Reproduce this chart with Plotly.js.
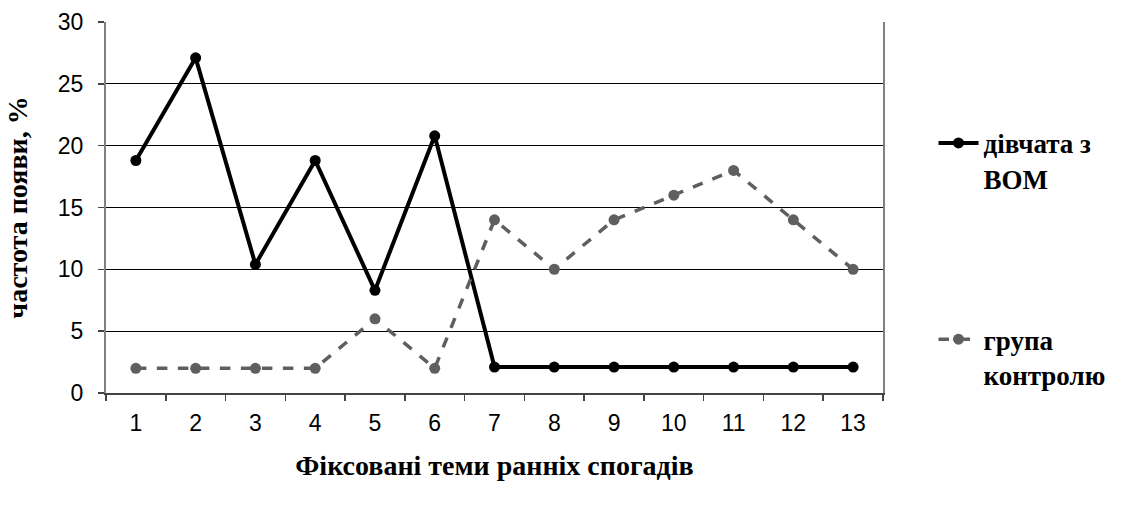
<!DOCTYPE html>
<html>
<head>
<meta charset="utf-8">
<script src="https://cdn.plot.ly/plotly-3.0.1.min.js"></script>
<style>
  html, body { margin: 0; padding: 0; background: #fff; }
  #chart { width: 1123px; height: 514px; }
</style>
</head>
<body>
<div id="chart"></div>
<script>
// Теми ранніх спогадів (1–13)
const themes = ['1', '2', '3', '4', '5', '6', '7', '8', '9', '10', '11', '12', '13'];
// Частота появи, %
const girlsVOM = [18.8, 27.1, 10.4, 18.8, 8.3, 20.8, 2.1, 2.1, 2.1, 2.1, 2.1, 2.1, 2.1];
const controlGroup = [2, 2, 2, 2, 6, 2, 14, 10, 14, 16, 18, 14, 10];
const yTicks = [0, 5, 10, 15, 20, 25, 30];

const serif = 'Times New Roman, Liberation Serif, DejaVu Serif, serif';
const sans = 'Arial, Liberation Sans, sans-serif';

const traces = [
  {
    x: themes, y: girlsVOM, name: 'дівчата з<br>ВОМ',
    type: 'scatter', mode: 'lines+markers',
    line: { color: '#000000', width: 4 },
    marker: { color: '#000000', size: 11 },
    legend: 'legend'
  },
  {
    x: themes, y: controlGroup, name: 'група<br>контролю',
    type: 'scatter', mode: 'lines+markers',
    line: { color: '#5f5f5f', width: 3.5, dash: 'dash' },
    marker: { color: '#5f5f5f', size: 11 },
    legend: 'legend2'
  }
];

const legendBase = {
  xref: 'paper', yref: 'paper', xanchor: 'left', yanchor: 'top',
  bgcolor: 'rgba(0,0,0,0)', borderwidth: 0, valign: 'top',
  font: { family: serif, size: 27, color: '#000', weight: 'bold' },
  itemwidth: 40
};

const layout = {
  width: 1123, height: 514,
  margin: { l: 106, r: 238, t: 22, b: 121 },
  paper_bgcolor: '#ffffff', plot_bgcolor: '#ffffff',
  font: { family: sans, size: 23, color: '#000' },
  showlegend: true,
  xaxis: {
    type: 'category',
    range: [-0.5, 12.5],
    tickson: 'boundaries',
    ticks: 'outside', ticklen: 6, tickcolor: '#444', tickwidth: 1.5,
    ticklabelstandoff: 9,
    showgrid: false, zeroline: false,
    showline: true, linecolor: '#444', linewidth: 1.5,
    tickfont: { family: sans, size: 23, color: '#000' },
    title: {
      text: 'Фіксовані теми ранніх спогадів',
      font: { family: serif, size: 28, color: '#000', weight: 'bold' },
      standoff: 20
    }
  },
  yaxis: {
    range: [0, 30],
    tickvals: yTicks,
    ticks: 'outside', ticklen: 6, tickcolor: '#444', tickwidth: 1.5,
    ticklabelstandoff: 10,
    showgrid: true, gridcolor: '#000000', gridwidth: 1,
    zeroline: false,
    showline: true, linecolor: '#808080', linewidth: 2, mirror: true,
    tickfont: { family: sans, size: 23, color: '#000' },
    title: {
      text: 'частота появи, %',
      font: { family: serif, size: 28, color: '#000', weight: 'bold' },
      standoff: 22
    }
  },
  legend: Object.assign({}, legendBase, { x: 1.065, y: 0.739 }),
  legend2: Object.assign({}, legendBase, { x: 1.065, y: 0.21 })
};

Plotly.newPlot('chart', traces, layout, { displayModeBar: false, staticPlot: true });
</script>
</body>
</html>
